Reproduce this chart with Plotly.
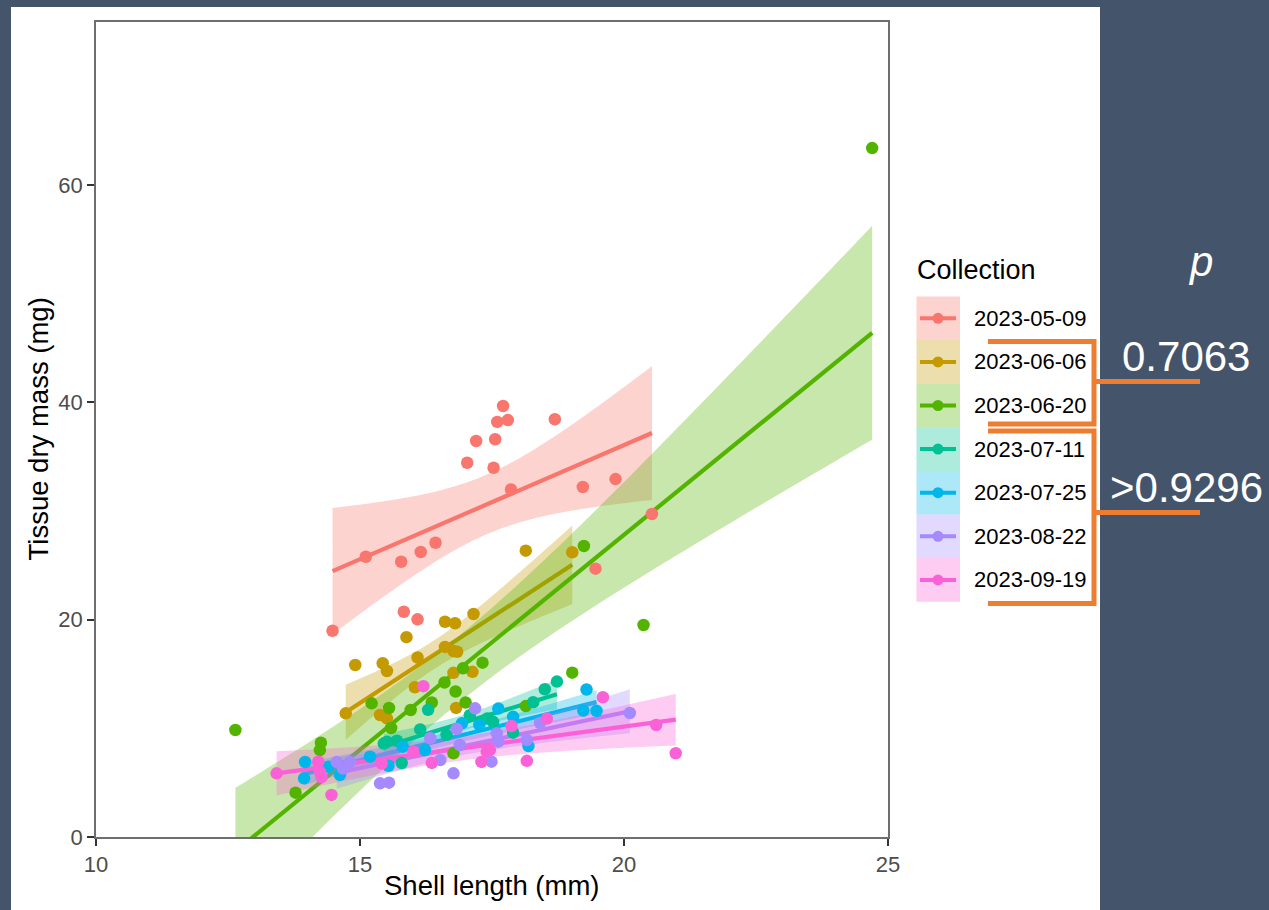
import numpy as np
import plotly.graph_objects as go

# ---------------- data ----------------
groups = ["2023-05-09", "2023-06-06", "2023-06-20", "2023-07-11",
          "2023-07-25", "2023-08-22", "2023-09-19"]
colors = ["#F8766D", "#C49A00", "#53B400", "#00C094", "#00B6EB", "#A58AFF", "#FB61D7"]

x_0509 = [14.48, 15.11, 15.78, 16.15, 16.43, 17.03, 17.20, 17.56, 17.53, 17.60,
          17.80, 17.71, 17.86, 18.69, 19.22, 19.84, 20.53, 19.46, 15.83, 16.09]
y_0509 = [18.98, 25.79, 25.33, 26.23, 27.08, 34.44, 36.44, 36.60, 33.98, 38.20,
          38.37, 39.66, 31.98, 38.44, 32.21, 32.94, 29.72, 24.69, 20.73, 20.03]

x_0606 = [14.73, 14.91, 15.43, 15.51, 15.38, 15.51, 15.88, 16.04, 16.09, 16.61,
          16.80, 17.15, 16.61, 16.77, 16.84, 16.77, 17.13, 16.82, 18.14, 19.02]
y_0606 = [11.38, 15.83, 15.99, 15.28, 11.23, 10.92, 18.39, 13.78, 16.52, 19.81,
          19.67, 20.52, 17.49, 17.12, 17.05, 15.11, 15.20, 11.88, 26.35, 26.20]

x_0620 = [12.64, 13.78, 14.26, 14.24, 15.22, 15.55, 15.59, 15.96, 16.36, 16.60,
          16.81, 17.00, 16.95, 17.32, 16.77, 18.14, 19.02, 19.24, 20.37, 24.70]
y_0620 = [9.85, 4.08, 8.68, 8.00, 12.30, 11.87, 10.03, 11.69, 12.38, 14.22,
          13.39, 12.38, 15.52, 16.04, 7.70, 12.05, 15.12, 26.78, 19.51, 63.40]

x_0711 = [15.45, 15.51, 15.70, 15.79, 16.14, 16.29, 16.64, 17.08, 17.41, 17.52,
          17.90, 18.28, 18.50, 18.73]
y_0711 = [8.60, 8.77, 8.86, 6.80, 9.90, 11.70, 9.40, 11.20, 10.90, 10.60,
          9.60, 12.40, 13.60, 14.30]

x_0725 = [13.94, 13.96, 14.40, 14.62, 15.19, 15.54, 15.81, 16.23, 16.93, 17.26,
          17.62, 17.90, 18.19, 19.23, 19.48, 19.29]
y_0725 = [5.40, 6.90, 6.47, 5.71, 7.39, 6.56, 8.31, 8.01, 10.46, 10.31,
          11.82, 11.06, 8.37, 11.63, 11.61, 13.57]

x_0822 = [14.56, 14.68, 14.81, 15.38, 15.55, 16.33, 16.52, 16.77, 16.83, 17.18,
          17.49, 17.59, 17.62, 16.89, 18.16, 18.41, 20.11]
y_0822 = [6.91, 6.30, 6.91, 4.94, 5.00, 9.09, 7.09, 5.86, 9.94, 11.84,
          6.93, 9.54, 8.77, 8.47, 8.93, 10.49, 11.41]

x_0919 = [13.42, 14.21, 14.24, 14.27, 14.46, 15.41, 16.01, 16.20, 16.36, 17.30,
          17.40, 17.46, 17.87, 18.16, 18.54, 19.60, 20.61, 20.98]
y_0919 = [5.86, 6.93, 5.98, 5.52, 3.87, 6.76, 7.85, 13.88, 6.82, 6.91,
          7.85, 8.00, 10.21, 7.01, 10.90, 12.86, 10.31, 7.71]

xs_all = [x_0509, x_0606, x_0620, x_0711, x_0725, x_0822, x_0919]
ys_all = [y_0509, y_0606, y_0620, y_0711, y_0725, y_0822, y_0919]

x_ticks = [10, 15, 20, 25]
y_ticks = [0, 20, 40, 60]
p_labels = ["0.7063", ">0.9296"]

# ---------------- helpers ----------------
W, H = 1269, 910
L, R, T, B = 96, 888, 22, 837


def px(x):
    return (x - L) / (R - L)


def py(y):
    return (B - y) / (B - T)


def rgba(hexc, a):
    h = hexc.lstrip("#")
    r, g, b = int(h[0:2], 16), int(h[2:4], 16), int(h[4:6], 16)
    return f"rgba({r},{g},{b},{a})"


def t_quant(df, z=1.959963985):
    g1 = (z**3 + z) / 4
    g2 = (5 * z**5 + 16 * z**3 + 3 * z) / 96
    g3 = (3 * z**7 + 19 * z**5 + 17 * z**3 - 15 * z) / 384
    g4 = (79 * z**9 + 776 * z**7 + 1482 * z**5 - 1920 * z**3 - 945 * z) / 92160
    return z + g1 / df + g2 / df**2 + g3 / df**3 + g4 / df**4


def lm_band(x, y, n=80):
    x = np.asarray(x, float)
    y = np.asarray(y, float)
    m = len(x)
    xm, ym = x.mean(), y.mean()
    sxx = ((x - xm) ** 2).sum()
    b1 = ((x - xm) * (y - ym)).sum() / sxx
    b0 = ym - b1 * xm
    s2 = ((y - b0 - b1 * x) ** 2).sum() / (m - 2)
    grid = np.linspace(x.min(), x.max(), n)
    fit = b0 + b1 * grid
    se = np.sqrt(s2 * (1 / m + (grid - xm) ** 2 / sxx))
    t = t_quant(m - 2)
    return grid, fit, fit - t * se, fit + t * se


FONT = "Liberation Sans, Arial, sans-serif"
ORANGE = "#ED7D31"
BG = "#44546A"

fig = go.Figure()

# smooths
for g, c, xv, yv in zip(groups, colors, xs_all, ys_all):
    grid, fit, lo, hi = lm_band(xv, yv)
    fig.add_trace(go.Scatter(x=np.concatenate([grid, grid[::-1]]),
                             y=np.concatenate([hi, lo[::-1]]),
                             fill="toself", fillcolor=rgba(c, 0.32), mode="none",
                             showlegend=False, hoverinfo="skip"))
    fig.add_trace(go.Scatter(x=grid, y=fit, mode="lines", showlegend=False,
                             line=dict(color=c, width=4.2), hoverinfo="skip"))

# points
for g, c, xv, yv in zip(groups, colors, xs_all, ys_all):
    fig.add_trace(go.Scatter(x=xv, y=yv, mode="markers", name=g, showlegend=False,
                             marker=dict(color=c, size=12.5, line=dict(width=0)),
                             hoverinfo="skip"))

shapes = []
# white panel
shapes.append(dict(type="rect", xref="paper", yref="paper", x0=px(11), x1=px(1100),
                   y0=py(912), y1=py(7), fillcolor="white", line=dict(width=0),
                   layer="below"))

annotations = []
# legend
annotations.append(dict(text="Collection", xref="paper", yref="paper", x=px(915), y=py(270),
                        xanchor="left", yanchor="middle", showarrow=False,
                        font=dict(family=FONT, size=27, color="black")))
key_top, key_h = 296.5, 43.6
for i, (g, c) in enumerate(zip(groups, colors)):
    y0 = key_top + i * key_h
    yc = y0 + key_h / 2
    shapes.append(dict(type="rect", xref="paper", yref="paper", x0=px(916.5), x1=px(960),
                       y0=py(y0 + key_h), y1=py(y0), fillcolor=rgba(c, 0.32),
                       line=dict(width=0), layer="above"))
    shapes.append(dict(type="line", xref="paper", yref="paper", x0=px(920), x1=px(956),
                       y0=py(yc), y1=py(yc), line=dict(color=c, width=4), layer="above"))
    shapes.append(dict(type="circle", xref="paper", yref="paper", xsizemode="pixel",
                       ysizemode="pixel", xanchor=px(938), yanchor=py(yc),
                       x0=-5.5, x1=5.5, y0=-5.5, y1=5.5, fillcolor=c,
                       line=dict(width=0), layer="above"))
    annotations.append(dict(text=g, xref="paper", yref="paper", x=px(972), y=py(yc),
                            xanchor="left", yanchor="middle", showarrow=False,
                            font=dict(family=FONT, size=22, color="black")))


# brackets
def path(points):
    s = "M {},{}".format(px(points[0][0]), py(points[0][1]))
    for (a, b) in points[1:]:
        s += " L {},{}".format(px(a), py(b))
    return s


br_line = dict(color=ORANGE, width=5)
shapes.append(dict(type="path", xref="paper", yref="paper",
                   path=path([(988, 341.5), (1094, 341.5), (1094, 424), (988, 424)]),
                   line=br_line, layer="above"))
shapes.append(dict(type="path", xref="paper", yref="paper",
                   path=path([(1094, 381.5), (1200, 381.5)]), line=br_line, layer="above"))
shapes.append(dict(type="path", xref="paper", yref="paper",
                   path=path([(988, 431), (1094, 431), (1094, 603.5), (988, 603.5)]),
                   line=br_line, layer="above"))
shapes.append(dict(type="path", xref="paper", yref="paper",
                   path=path([(1094, 512.5), (1200, 512.5)]), line=br_line, layer="above"))

annotations.append(dict(text="<i>p</i>", xref="paper", yref="paper", x=px(1200), y=py(261),
                        xanchor="center", yanchor="middle", showarrow=False,
                        font=dict(family=FONT, size=42, color="white")))
annotations.append(dict(text=p_labels[0], xref="paper", yref="paper", x=px(1186), y=py(357),
                        xanchor="center", yanchor="middle", showarrow=False,
                        font=dict(family=FONT, size=42, color="white")))
annotations.append(dict(text=p_labels[1], xref="paper", yref="paper", x=px(1186), y=py(487),
                        xanchor="center", yanchor="middle", showarrow=False,
                        font=dict(family=FONT, size=42, color="white")))

# axis titles
annotations.append(dict(text="Shell length (mm)", xref="paper", yref="paper", x=0.5, y=py(885),
                        xanchor="center", yanchor="middle", showarrow=False,
                        font=dict(family=FONT, size=27.5, color="black")))
annotations.append(dict(text="Tissue dry mass (mg)", xref="paper", yref="paper", x=px(38), y=0.5,
                        xanchor="center", yanchor="middle", showarrow=False, textangle=-90,
                        font=dict(family=FONT, size=27.5, color="black")))

axis_common = dict(showgrid=False, zeroline=False, showline=True, mirror=True,
                   linecolor="#6E6E6E", linewidth=1.5, ticks="outside", ticklen=7,
                   tickwidth=1.5, tickcolor="#333333",
                   tickfont=dict(family=FONT, size=22, color="#4D4D4D"))

fig.update_layout(
    width=W, height=H, autosize=False,
    margin=dict(l=L, r=W - R, t=T, b=H - B, pad=0),
    paper_bgcolor=BG, plot_bgcolor="white",
    xaxis=dict(range=[10, 25], tickvals=x_ticks, **axis_common),
    yaxis=dict(range=[0, 75], tickvals=y_ticks, **axis_common),
    shapes=shapes, annotations=annotations, showlegend=False,
    font=dict(family=FONT),
)

fig.write_html("out.html", config={"displayModeBar": False},
               post_script="document.body.style.margin='0';")
